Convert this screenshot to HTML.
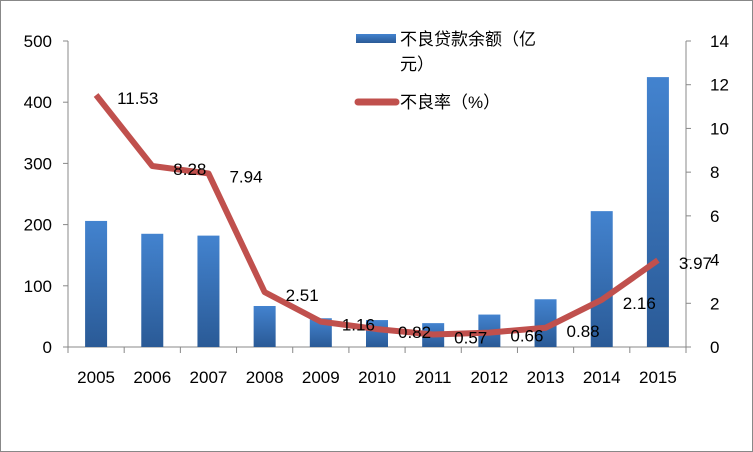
<!DOCTYPE html>
<html><head><meta charset="utf-8"><style>
html,body{margin:0;padding:0;background:#fff;}
svg{display:block;font-family:"Liberation Sans","Noto Sans CJK SC",sans-serif;}
</style></head><body>
<svg id="chart" width="753" height="452" viewBox="0 0 753 452">
<defs>
<linearGradient id="barg" x1="0" y1="0" x2="0" y2="1">
<stop offset="0" stop-color="#4383cf"/><stop offset="1" stop-color="#2a5a96"/>
</linearGradient>
</defs>
<rect x="0.5" y="0.5" width="752" height="451" fill="#fff" stroke="#888"/>
<g id="axes"></g><g id="bars"></g><g id="line"></g><g id="labels"></g>
<g>
<rect x="356" y="34" width="40" height="9" fill="url(#barg)"/>
<text x="400" y="45" font-size="17">不良贷款余额（亿</text>
<text x="400" y="70" font-size="17">元）</text>
<line x1="358" y1="102" x2="396" y2="102" stroke="#c0504d" stroke-width="7" stroke-linecap="round"/>
<text x="400" y="108" font-size="17">不良率（%）</text>
</g>
</svg>
<script>
const categories=["2005","2006","2007","2008","2009","2010","2011","2012","2013","2014","2015"];
const balance=[206,185,182,67,47,44,39,53,78,222,441];
const rate=[11.53,8.28,7.94,2.51,1.16,0.82,0.57,0.66,0.88,2.16,3.97];
const rateLabels=["11.53","8.28","7.94","2.51","1.16","0.82","0.57","0.66","0.88","2.16","3.97"];
const leftTicks=[0,100,200,300,400,500];
const rightTicks=[0,2,4,6,8,10,12,14];
const NS="http://www.w3.org/2000/svg";
const X0=68,X1=686,Y0=347,Y1=41;
const step=(X1-X0)/categories.length;
const xc=i=>X0+step*(i+0.5);
const yL=v=>Y0-(v/500)*(Y0-Y1);
const yR=v=>Y0-(v/14)*(Y0-Y1);
function mk(tag,attrs,parent,txt){const e=document.createElementNS(NS,tag);for(const k in attrs)e.setAttribute(k,attrs[k]);if(txt!==undefined)e.textContent=txt;document.getElementById(parent).appendChild(e);return e;}
let e;
e=mk('line',{x1:X0,y1:Y1,x2:X0,y2:Y0,stroke:'#888'},'axes');


e=mk('line',{x1:X1,y1:Y1,x2:X1,y2:Y0,stroke:'#888'},'axes');


e=mk('line',{x1:X0,y1:Y0,x2:X1,y2:Y0,stroke:'#888'},'axes');


leftTicks.forEach(t=>{
  e=mk('line',{x1:X0-5,y1:yL(t),x2:X0,y2:yL(t),stroke:'#888'},'axes');
  
  
  e=mk('text',{x:52,y:yL(t)+6,'font-size':17,'text-anchor':'end'},'axes',String(t));
  
  
});
rightTicks.forEach(t=>{
  e=mk('line',{x1:X1,y1:yR(t),x2:X1+5,y2:yR(t),stroke:'#888'},'axes');
  
  
  e=mk('text',{x:710,y:yR(t)+6,'font-size':17},'axes',String(t));
  
  
});
for(let i=0;i<=categories.length;i++){
  e=mk('line',{x1:X0+step*i,y1:Y0,x2:X0+step*i,y2:Y0+6,stroke:'#888'},'axes');
  
  
}
categories.forEach((c,i)=>{
  e=mk('text',{x:xc(i),y:383,'font-size':17,'text-anchor':'middle'},'axes',c);
  
  
  e=mk('rect',{x:xc(i)-11,y:yL(balance[i]),width:22,height:Y0-yL(balance[i]),fill:'url(#barg)'},'bars');
  
  
});
e=mk('polyline',{points:rate.map((v,i)=>xc(i)+','+yR(v)).join(' '),fill:'none',stroke:'#c0504d','stroke-width':6,'stroke-linejoin':'round'},'line');


rate.forEach((v,i)=>{
  e=mk('text',{x:xc(i)+21,y:yR(v)+9,'font-size':17},'labels',rateLabels[i]);
  
  
});
</script>
</body></html>
